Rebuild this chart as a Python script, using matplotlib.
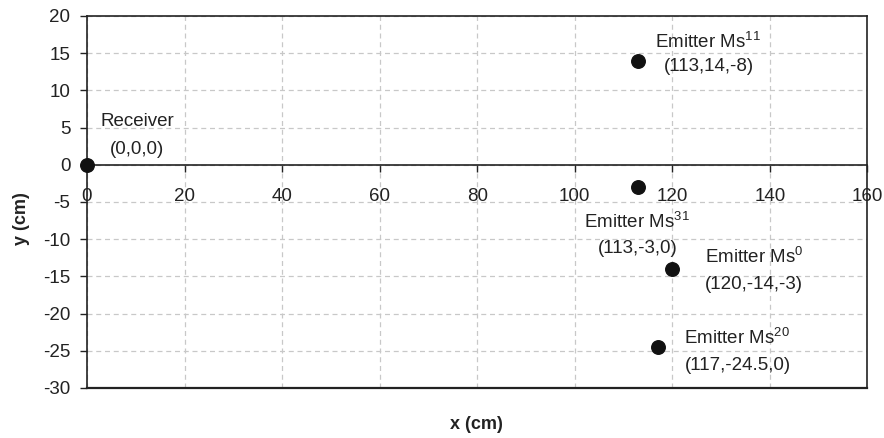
import matplotlib
matplotlib.use('Agg')
import matplotlib.pyplot as plt

plt.rcParams['font.family'] = ['Liberation Sans', 'DejaVu Sans']
plt.rcParams['mathtext.fontset'] = 'custom'
plt.rcParams['mathtext.rm'] = 'Liberation Sans'
plt.rcParams['axes.unicode_minus'] = False

# Positions of the transducers (x, y in cm)
names = ['Receiver', 'Emitter Ms$^{11}$', 'Emitter Ms$^{31}$', 'Emitter Ms$^{0}$', 'Emitter Ms$^{20}$']
coords = ['(0,0,0)', '(113,14,-8)', '(113,-3,0)', '(120,-14,-3)', '(117,-24.5,0)']
x_vals = [0, 113, 113, 120, 117]
y_vals = [0, 14, -3, -14, -24.5]

# label offsets in points (name line, coords line)
name_off = [(36, 31), (50, 14), (-1, -25), (59, 9), (57, 7)]
coord_off = [(36, 11), (51, -4), (0, -44), (59, -11), (58, -13)]

x_ticks = list(range(0, 161, 20))
y_ticks = list(range(-30, 21, 5))

fig = plt.figure(figsize=(8.84, 4.38), dpi=100)
ax = fig.add_axes([0.0984, 0.1142, 0.9812 - 0.0984, 0.9635 - 0.1142])

ax.set_xlim(0, 160)
ax.set_ylim(-30, 20)
ax.set_xticks(x_ticks)
ax.set_yticks(y_ticks)

frame_col = '#222222'
for s in ax.spines.values():
    s.set_color(frame_col)
    s.set_linewidth(1.2)
ax.spines['bottom'].set_position(('data', 0))
ax.axhline(-30, color=frame_col, lw=1.6, clip_on=False, zorder=3)

ax.grid(True, color='#c8c8c8', linestyle=(0, (4, 3)), linewidth=0.9)
ax.set_axisbelow(True)

ax.tick_params(axis='both', direction='out', length=5, width=1.0, color=frame_col,
               labelsize=13.5, labelcolor='#222222')
ax.tick_params(axis='x', pad=12)
ax.tick_params(axis='y', pad=7)

ax.scatter(x_vals, y_vals, s=95, color='#111111', zorder=5, clip_on=False)

for xv, yv, nm, cd, no, co in zip(x_vals, y_vals, names, coords, name_off, coord_off):
    ax.annotate(nm, (xv, yv), xytext=no, textcoords='offset points',
                ha='center', va='center', fontsize=13.5, color='#222222')
    ax.annotate(cd, (xv, yv), xytext=co, textcoords='offset points',
                ha='center', va='center', fontsize=13.5, color='#222222')

fig.text(0.024, 0.5, 'y (cm)', rotation=90, ha='center', va='center',
         fontsize=13, fontweight='bold', color='#222222')
fig.text(0.539, 0.030, 'x (cm)', ha='center', va='center',
         fontsize=13, fontweight='bold', color='#222222')

fig.savefig('out.png', dpi=100)
